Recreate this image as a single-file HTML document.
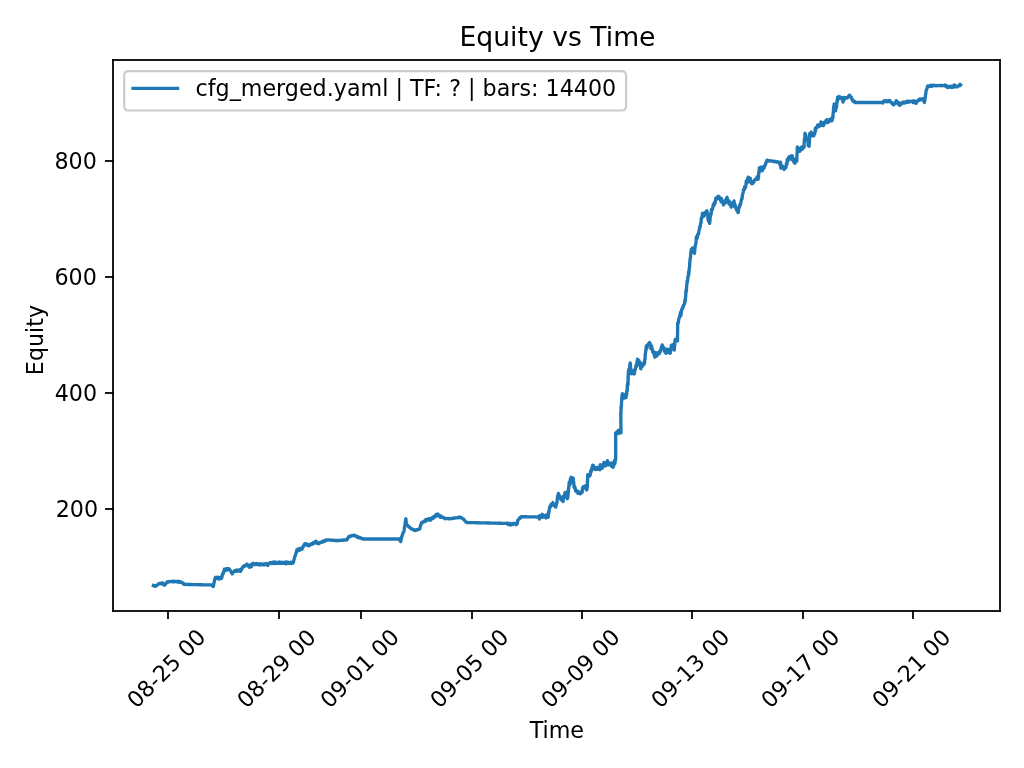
<!DOCTYPE html>
<html><head><meta charset="utf-8"><title>Equity vs Time</title>
<style>html,body{margin:0;padding:0;background:#fff;overflow:hidden}svg{display:block;will-change:transform}
text{font-family:"DejaVu Sans","Liberation Sans",sans-serif;fill:#000}</style>
</head><body>
<svg width="1024" height="768" viewBox="0 0 1024 768">
<rect width="1024" height="768" fill="#fff"/>
<defs><clipPath id="ax"><rect x="113.1" y="60.1" width="886.9" height="550.7"/></clipPath></defs>
<path d="M153.40 585.60 153.77 585.79 154.13 586.01 154.50 585.95 154.87 585.54 155.23 586.29 155.60 586.23 155.95 585.69 156.31 585.78 156.66 585.47 157.02 585.21 157.37 584.88 157.73 584.79 158.08 584.16 158.44 584.09 158.79 583.75 159.15 583.83 159.50 583.41 159.86 583.35 160.21 583.24 160.57 583.44 160.92 583.56 161.28 583.51 161.63 584.02 161.99 583.97 162.34 582.90 162.70 583.18 163.08 584.01 163.45 584.25 163.82 584.75 164.20 585.07 164.60 585.22 165.00 583.83 165.40 583.64 165.80 583.95 166.20 583.11 166.60 582.70 166.96 582.26 167.32 581.84 167.67 582.30 168.03 582.19 168.39 581.71 168.75 581.79 169.10 581.89 169.46 581.54 169.82 581.71 170.18 581.68 170.53 581.58 170.89 581.33 171.25 581.58 171.61 581.69 171.97 581.53 172.33 581.21 172.69 581.70 173.05 581.35 173.41 581.78 173.77 581.21 174.13 581.83 174.49 581.57 174.85 581.22 175.21 581.52 175.57 581.65 175.93 581.73 176.28 581.37 176.64 581.36 177.00 581.77 177.36 581.59 177.72 581.82 178.08 581.99 178.44 581.29 178.80 581.88 179.16 582.19 179.52 581.75 179.88 581.62 180.24 582.11 180.60 581.98 180.95 582.40 181.31 582.25 181.66 582.14 182.02 582.78 182.37 582.90 182.73 583.50 183.08 583.55 183.44 583.23 183.79 583.59 184.15 584.44 184.50 584.60 184.85 584.22 185.21 584.41 185.56 584.42 185.91 584.43 186.26 584.44 186.62 584.45 186.97 584.45 187.32 584.46 187.67 584.47 188.03 584.48 188.38 584.48 188.73 584.49 189.08 584.50 189.44 584.50 189.79 584.51 190.14 584.52 190.49 584.53 190.85 584.54 191.20 584.54 191.55 584.55 191.90 584.56 192.26 584.57 192.61 584.57 192.96 584.58 193.31 584.59 193.66 584.60 194.02 584.60 194.37 584.61 194.72 584.62 195.08 584.62 195.43 584.63 195.78 584.64 196.13 584.65 196.49 584.65 196.84 584.66 197.19 584.67 197.54 584.68 197.90 584.69 198.25 584.69 198.60 584.70 198.95 584.71 199.31 584.72 199.66 584.72 200.01 584.73 200.36 584.74 200.72 584.75 201.07 584.75 201.42 584.76 201.77 584.77 202.12 584.78 202.48 584.78 202.83 584.79 203.18 584.80 203.53 584.80 203.89 584.81 204.24 584.82 204.59 584.83 204.95 584.84 205.30 584.84 205.65 584.85 206.00 584.86 206.36 584.87 206.71 584.87 207.06 584.88 207.41 584.89 207.76 584.89 208.12 584.90 208.47 584.91 208.82 584.92 209.18 584.93 209.53 584.93 209.88 584.94 210.23 584.95 210.59 584.96 210.94 584.96 211.29 584.97 211.64 584.98 212.00 584.99 212.35 585.33 212.70 585.32 213.05 586.50 213.40 586.20 213.67 584.52 213.93 583.44 214.20 582.17 214.47 580.95 214.73 579.59 215.00 578.38 215.39 577.40 215.78 578.50 216.16 577.72 216.55 577.34 216.94 578.11 217.33 578.33 217.71 577.84 218.10 577.58 218.45 577.19 218.80 579.16 219.15 578.34 219.50 577.51 219.85 577.82 220.20 578.38 220.55 577.73 220.90 578.69 221.25 578.53 221.60 578.33 221.95 577.20 222.30 574.43 222.65 574.75 223.00 572.95 223.35 573.25 223.70 571.79 224.05 570.97 224.40 569.19 224.75 570.52 225.11 570.55 225.46 569.00 225.82 569.63 226.17 569.07 226.52 569.32 226.88 568.66 227.23 570.10 227.58 568.68 227.94 568.94 228.29 569.26 228.65 568.65 229.00 568.79 229.36 569.15 229.71 569.88 230.07 569.90 230.42 570.78 230.78 571.41 231.13 571.87 231.49 572.58 231.84 572.94 232.20 573.96 232.58 573.05 232.97 572.75 233.35 572.11 233.73 571.78 234.12 571.03 234.50 571.50 234.85 570.66 235.20 570.81 235.55 571.30 235.90 571.28 236.25 570.85 236.60 570.03 236.95 571.16 237.30 571.04 237.65 570.20 238.00 571.20 238.35 570.46 238.70 570.21 239.05 570.75 239.40 570.58 239.75 570.72 240.10 569.81 240.45 571.41 240.80 570.21 241.18 569.11 241.57 569.50 241.95 568.38 242.33 568.06 242.72 567.09 243.10 566.57 243.45 566.57 243.81 565.95 244.16 566.49 244.52 565.79 244.87 565.46 245.23 565.76 245.58 565.80 245.94 565.33 246.29 564.88 246.65 565.44 247.00 564.16 247.40 564.82 247.80 565.65 248.20 565.30 248.60 566.28 249.00 566.56 249.40 567.33 249.79 566.12 250.18 565.92 250.56 566.05 250.95 564.37 251.34 566.70 251.73 564.54 252.11 564.19 252.50 564.61 252.85 564.18 253.21 563.35 253.56 564.50 253.91 564.61 254.26 563.98 254.62 564.06 254.97 564.43 255.32 563.76 255.67 564.41 256.03 564.30 256.38 563.88 256.73 563.53 257.08 564.09 257.44 563.78 257.79 564.68 258.14 564.27 258.49 564.58 258.85 564.26 259.20 564.33 259.55 563.82 259.90 564.52 260.25 565.06 260.61 564.05 260.96 563.92 261.31 564.12 261.67 563.97 262.02 563.86 262.37 564.27 262.72 564.06 263.08 564.89 263.43 564.20 263.78 564.36 264.13 564.66 264.49 564.06 264.84 564.89 265.19 563.90 265.54 563.81 265.89 564.02 266.25 564.14 266.60 563.53 266.98 564.38 267.35 563.80 267.73 565.47 268.10 564.96 268.50 564.19 268.90 563.56 269.30 563.32 269.70 562.89 270.05 562.49 270.41 562.55 270.76 562.90 271.12 562.73 271.47 563.43 271.83 563.52 272.18 562.98 272.54 563.19 272.89 562.32 273.25 563.26 273.60 562.94 273.95 563.18 274.31 563.71 274.66 561.84 275.02 563.06 275.37 562.40 275.73 563.21 276.08 562.29 276.44 562.68 276.79 563.01 277.15 563.20 277.50 562.94 277.85 562.51 278.21 562.63 278.56 563.31 278.92 562.88 279.27 562.07 279.63 563.28 279.98 563.07 280.34 563.28 280.69 562.70 281.05 563.25 281.40 562.34 281.75 563.12 282.11 562.61 282.46 563.16 282.82 563.31 283.17 562.47 283.53 562.80 283.88 562.84 284.24 563.38 284.59 563.15 284.95 562.22 285.30 563.02 285.65 563.15 286.01 563.81 286.36 561.98 286.72 562.52 287.07 563.42 287.43 562.12 287.78 562.19 288.14 563.01 288.49 563.25 288.85 562.43 289.20 563.01 289.55 562.80 289.91 563.47 290.26 562.74 290.62 563.21 290.97 562.29 291.33 562.63 291.68 562.67 292.04 563.26 292.39 562.99 292.75 562.34 293.10 563.03 293.45 561.92 293.81 560.34 294.16 559.11 294.52 557.99 294.87 556.11 295.23 555.86 295.58 554.73 295.94 553.05 296.29 552.67 296.65 550.50 297.00 549.74 297.36 549.71 297.72 550.83 298.08 549.05 298.45 550.02 298.81 550.14 299.17 549.81 299.53 550.14 299.89 549.03 300.25 548.35 300.62 549.75 300.98 548.75 301.34 549.10 301.70 548.63 302.09 549.02 302.48 548.25 302.86 546.81 303.25 546.91 303.64 545.85 304.03 545.05 304.41 544.46 304.80 543.65 305.16 544.16 305.52 544.14 305.88 543.94 306.25 544.71 306.61 544.05 306.97 544.60 307.33 544.79 307.69 545.41 308.05 544.58 308.42 545.78 308.78 545.15 309.14 545.09 309.50 544.98 309.85 545.36 310.20 544.89 310.55 544.12 310.90 543.89 311.25 543.95 311.60 543.68 311.95 544.31 312.30 544.23 312.65 543.77 313.00 543.31 313.35 542.71 313.70 542.73 314.05 542.91 314.40 543.29 314.75 542.49 315.10 541.70 315.45 541.63 315.80 541.17 316.18 541.29 316.57 541.84 316.95 542.29 317.33 543.35 317.72 542.76 318.10 543.65 318.46 543.76 318.82 542.87 319.18 543.52 319.55 543.00 319.91 542.38 320.27 542.62 320.63 542.42 320.99 542.21 321.35 542.14 321.72 542.22 322.08 542.28 322.44 541.56 322.80 541.90 323.15 540.98 323.51 541.64 323.86 541.63 324.22 541.22 324.57 541.08 324.93 541.04 325.28 540.24 325.64 540.26 325.99 540.43 326.35 540.05 326.70 539.82 327.05 539.98 327.40 539.85 327.76 539.94 328.11 539.99 328.46 539.93 328.81 539.92 329.16 539.92 329.51 540.03 329.87 540.11 330.22 540.09 330.57 540.11 330.92 540.11 331.27 540.19 331.62 540.06 331.98 540.23 332.33 540.24 332.68 540.19 333.03 540.43 333.38 540.24 333.73 540.29 334.09 540.31 334.44 540.47 334.79 540.38 335.14 540.50 335.49 540.52 335.84 540.53 336.20 540.47 336.55 540.54 336.90 540.70 337.26 540.49 337.62 540.49 337.98 540.50 338.34 540.53 338.70 540.47 339.06 540.47 339.43 540.34 339.79 540.43 340.15 540.38 340.51 540.22 340.87 540.38 341.23 540.39 341.59 540.18 341.95 540.20 342.31 540.26 342.67 540.05 343.03 539.99 343.39 540.01 343.75 540.02 344.11 539.99 344.47 540.04 344.84 539.99 345.20 539.87 345.56 539.95 345.92 540.00 346.28 539.93 346.64 539.89 347.00 539.80 347.40 539.26 347.80 538.02 348.20 537.66 348.60 536.68 348.96 536.87 349.32 536.61 349.68 536.14 350.04 536.33 350.40 536.49 350.76 535.83 351.12 535.87 351.48 535.72 351.84 535.44 352.20 535.93 352.56 535.91 352.92 535.69 353.28 535.46 353.64 535.29 354.00 535.26 354.37 535.20 354.73 535.77 355.10 535.98 355.46 536.13 355.83 535.96 356.19 536.28 356.56 536.40 356.92 537.04 357.29 536.84 357.65 536.52 358.02 537.24 358.38 537.77 358.75 537.66 359.11 537.83 359.47 537.74 359.82 537.37 360.18 537.53 360.54 537.78 360.90 538.16 361.25 538.38 361.61 538.59 361.97 538.46 362.33 538.88 362.68 538.70 363.04 538.88 363.40 539.00 363.75 539.00 364.11 539.00 364.46 539.00 364.81 539.00 365.16 539.00 365.52 539.00 365.87 539.00 366.22 539.00 366.58 539.00 366.93 539.00 367.28 539.00 367.64 539.00 367.99 539.00 368.34 539.00 368.69 539.00 369.05 539.00 369.40 539.00 369.75 539.00 370.11 539.00 370.46 539.00 370.81 539.00 371.16 539.00 371.52 539.00 371.87 539.00 372.22 539.00 372.58 539.00 372.93 539.00 373.28 539.00 373.64 539.00 373.99 539.00 374.34 539.00 374.69 539.00 375.05 539.00 375.40 539.00 375.75 539.00 376.11 539.00 376.46 539.00 376.81 539.00 377.16 539.00 377.52 539.00 377.87 539.00 378.22 539.00 378.58 539.00 378.93 539.00 379.28 539.00 379.64 539.00 379.99 539.00 380.34 539.00 380.69 539.00 381.05 539.00 381.40 539.00 381.75 539.00 382.11 539.00 382.46 539.00 382.81 539.00 383.16 539.00 383.52 539.00 383.87 539.00 384.22 539.00 384.58 539.00 384.93 539.00 385.28 539.00 385.64 539.00 385.99 539.00 386.34 539.00 386.69 539.00 387.05 539.00 387.40 539.00 387.75 539.00 388.11 539.00 388.46 539.00 388.81 539.00 389.16 539.00 389.52 539.00 389.87 539.00 390.22 539.00 390.58 539.00 390.93 539.00 391.28 539.00 391.64 539.00 391.99 539.00 392.34 539.00 392.69 539.00 393.05 539.00 393.40 539.00 393.75 539.00 394.11 539.00 394.46 539.00 394.81 539.00 395.16 539.00 395.52 539.00 395.87 539.00 396.22 539.00 396.58 539.00 396.93 539.00 397.28 539.00 397.64 539.00 397.99 539.00 398.34 539.00 398.69 539.00 399.05 538.80 399.40 538.89 399.80 540.17 400.20 540.27 400.60 541.64 400.88 540.85 401.15 539.41 401.43 538.23 401.70 536.63 402.08 535.93 402.47 534.71 402.85 533.65 403.23 532.66 403.62 532.03 404.00 531.12 404.17 529.93 404.35 528.06 404.52 527.27 404.69 526.45 404.86 525.48 405.04 524.10 405.21 522.86 405.38 521.35 405.55 521.22 405.73 519.30 405.90 518.80 406.03 520.22 406.15 521.37 406.27 522.61 406.40 524.23 406.75 524.28 407.11 524.97 407.46 525.26 407.82 525.75 408.17 526.20 408.53 526.74 408.88 526.59 409.24 527.29 409.59 527.20 409.95 527.53 410.30 527.95 410.66 528.05 411.02 528.70 411.38 528.88 411.75 529.14 412.11 529.02 412.47 529.27 412.83 529.25 413.19 529.30 413.55 529.87 413.92 530.01 414.28 529.87 414.64 530.46 415.00 530.08 415.36 530.33 415.72 530.10 416.08 530.00 416.45 529.75 416.81 530.11 417.17 529.90 417.53 529.92 417.89 529.55 418.25 529.08 418.62 529.18 418.98 528.86 419.34 529.13 419.70 529.19 420.09 527.68 420.48 525.86 420.86 524.59 421.25 523.49 421.61 522.46 421.97 522.99 422.32 522.77 422.68 522.18 423.04 522.00 423.40 522.04 423.75 521.33 424.11 521.09 424.47 521.62 424.83 521.11 425.18 521.57 425.54 520.05 425.90 519.44 426.26 520.68 426.62 520.63 426.98 519.75 427.35 519.34 427.71 519.96 428.07 519.08 428.43 519.69 428.79 518.75 429.15 519.62 429.52 518.65 429.88 519.49 430.24 520.27 430.60 519.36 430.97 519.58 431.34 518.62 431.71 518.22 432.08 517.66 432.45 518.60 432.82 517.79 433.19 518.32 433.56 516.70 433.94 516.88 434.31 516.75 434.68 517.12 435.05 517.04 435.42 515.57 435.79 515.06 436.16 514.50 436.53 515.70 436.90 514.73 437.25 514.63 437.61 515.08 437.96 514.04 438.32 514.60 438.67 516.04 439.03 515.95 439.38 515.99 439.74 515.60 440.09 516.53 440.45 517.26 440.80 515.99 441.15 516.75 441.51 516.69 441.86 517.24 442.22 517.24 442.57 517.32 442.93 517.13 443.28 517.71 443.64 517.59 443.99 517.98 444.35 518.18 444.70 518.69 445.05 518.35 445.41 518.40 445.76 518.59 446.11 518.46 446.47 518.48 446.82 518.64 447.17 518.59 447.53 518.59 447.88 518.63 448.23 518.48 448.59 518.71 448.94 518.83 449.29 518.77 449.65 518.53 450.00 518.78 450.37 518.58 450.74 518.61 451.10 518.59 451.47 518.38 451.84 518.63 452.21 518.40 452.57 518.45 452.94 518.37 453.31 518.40 453.68 518.33 454.04 517.95 454.41 518.08 454.78 517.76 455.15 517.91 455.51 517.99 455.88 517.96 456.25 517.95 456.61 517.68 456.97 517.69 457.33 517.59 457.69 517.66 458.05 517.62 458.40 517.32 458.76 517.74 459.12 517.21 459.48 517.10 459.84 517.14 460.20 517.09 460.59 517.31 460.98 517.42 461.36 517.92 461.75 518.00 462.14 518.43 462.52 518.66 462.91 518.59 463.30 518.88 463.69 519.31 464.08 519.90 464.46 520.32 464.85 520.78 465.24 521.09 465.62 521.67 466.01 522.06 466.40 522.50 466.75 522.51 467.11 522.52 467.46 522.52 467.81 522.53 468.16 522.54 468.52 522.55 468.87 522.56 469.22 522.56 469.57 522.57 469.93 522.58 470.28 522.59 470.63 522.60 470.98 522.60 471.34 522.61 471.69 522.62 472.04 522.63 472.40 522.64 472.75 522.64 473.10 522.65 473.45 522.66 473.81 522.67 474.16 522.68 474.51 522.68 474.86 522.69 475.22 522.70 475.57 522.71 475.92 522.72 476.27 522.72 476.63 522.73 476.98 522.74 477.33 522.75 477.68 522.75 478.04 522.76 478.39 522.77 478.74 522.78 479.10 522.79 479.45 522.79 479.80 522.80 480.15 522.81 480.51 522.82 480.86 522.83 481.21 522.83 481.56 522.84 481.92 522.85 482.27 522.86 482.62 522.87 482.97 522.87 483.33 522.88 483.68 522.89 484.03 522.90 484.39 522.91 484.74 522.91 485.09 522.92 485.44 522.93 485.80 522.94 486.15 522.95 486.50 522.95 486.85 522.96 487.21 522.97 487.56 522.98 487.91 522.99 488.26 522.99 488.62 523.00 488.97 523.01 489.32 523.02 489.68 523.03 490.03 523.03 490.38 523.04 490.73 523.05 491.09 523.06 491.44 523.07 491.79 523.07 492.14 523.08 492.50 523.09 492.85 523.10 493.20 523.11 493.55 523.11 493.91 523.12 494.26 523.13 494.61 523.14 494.97 523.15 495.32 523.15 495.67 523.16 496.02 523.17 496.38 523.18 496.73 523.18 497.08 523.19 497.43 523.20 497.79 523.21 498.14 523.22 498.49 523.22 498.84 523.23 499.20 523.24 499.55 523.25 499.90 523.26 500.25 523.26 500.61 523.27 500.96 523.28 501.31 523.29 501.67 523.30 502.02 523.30 502.37 523.31 502.72 523.32 503.08 523.33 503.43 523.34 503.78 523.34 504.13 523.35 504.49 523.36 504.84 523.37 505.19 523.38 505.54 523.38 505.90 523.39 506.25 523.32 506.64 523.45 507.03 523.64 507.43 523.08 507.82 524.11 508.21 524.17 508.60 524.60 508.96 524.54 509.32 524.74 509.68 524.40 510.03 524.66 510.39 523.42 510.75 523.91 511.11 524.90 511.47 523.81 511.82 524.11 512.18 524.44 512.54 523.83 512.90 524.38 513.26 523.57 513.62 523.37 513.98 523.55 514.33 523.40 514.69 523.96 515.05 523.82 515.41 524.02 515.77 523.50 516.12 524.75 516.48 523.77 516.84 523.76 517.20 523.91 517.47 522.34 517.73 520.88 518.00 519.83 518.39 519.74 518.77 519.26 519.16 518.97 519.55 518.04 519.94 517.58 520.33 518.19 520.71 517.00 521.10 516.70 521.45 516.71 521.80 516.71 522.15 516.72 522.50 516.72 522.85 516.73 523.21 516.74 523.56 516.74 523.91 516.75 524.26 516.75 524.61 516.76 524.96 516.76 525.31 516.77 525.66 516.78 526.01 516.78 526.36 516.79 526.72 516.79 527.07 516.80 527.42 516.81 527.77 516.81 528.12 516.82 528.47 516.82 528.82 516.83 529.17 516.84 529.52 516.84 529.87 516.85 530.23 516.85 530.58 516.86 530.93 516.86 531.28 516.87 531.63 516.88 531.98 516.88 532.33 516.89 532.68 516.89 533.03 516.90 533.38 516.91 533.74 516.91 534.09 516.92 534.44 516.92 534.79 516.93 535.14 516.94 535.49 516.94 535.84 516.95 536.19 516.95 536.54 516.96 536.89 516.96 537.25 516.97 537.60 516.98 537.95 516.98 538.30 516.99 538.65 516.99 539.00 516.27 539.37 519.07 539.74 515.71 540.11 516.31 540.49 517.67 540.86 516.28 541.23 515.49 541.60 516.24 541.96 516.91 542.33 514.29 542.69 516.03 543.06 516.17 543.42 515.80 543.79 517.14 544.15 515.55 544.52 515.77 544.88 516.23 545.25 517.04 545.61 515.88 545.98 517.94 546.34 515.00 546.71 517.61 547.07 515.02 547.44 515.83 547.80 516.44 548.10 517.19 548.40 514.52 548.70 511.69 549.00 512.46 549.30 509.37 549.60 507.40 549.90 507.61 550.20 505.91 550.59 506.60 550.97 504.45 551.36 505.23 551.74 505.19 552.13 504.42 552.51 503.71 552.90 502.56 553.29 505.00 553.67 504.59 554.06 505.54 554.44 505.04 554.83 505.99 555.21 505.24 555.60 507.10 555.88 506.67 556.16 504.61 556.44 504.28 556.72 502.38 557.00 502.39 557.28 499.27 557.56 496.28 557.84 497.52 558.12 495.55 558.40 493.33 558.76 495.73 559.12 495.72 559.48 496.38 559.83 495.90 560.19 496.99 560.55 497.51 560.91 499.78 561.27 497.28 561.62 498.54 561.98 499.44 562.34 497.38 562.70 497.98 563.09 501.67 563.48 496.13 563.86 498.11 564.25 495.58 564.64 494.86 565.02 492.57 565.41 493.04 565.80 494.24 566.18 492.41 566.56 495.57 566.94 496.02 567.32 498.84 567.70 496.63 567.83 497.47 567.97 495.78 568.10 493.13 568.23 490.24 568.37 492.80 568.50 488.11 568.63 487.94 568.77 488.33 568.90 487.36 569.03 483.77 569.17 483.50 569.30 481.99 569.65 483.40 570.01 484.67 570.36 479.15 570.72 482.13 571.07 477.28 571.43 480.41 571.78 478.74 572.14 482.14 572.49 479.64 572.85 478.23 573.20 478.20 573.37 479.40 573.54 481.60 573.71 482.47 573.89 484.73 574.06 487.08 574.23 487.36 574.40 486.33 574.79 486.52 575.17 488.24 575.56 491.08 575.94 490.08 576.33 490.36 576.71 491.99 577.10 490.80 577.45 491.21 577.81 493.26 578.16 492.35 578.52 492.25 578.87 493.24 579.23 492.23 579.58 492.19 579.94 492.53 580.29 493.88 580.65 493.30 581.00 491.87 581.39 491.88 581.79 491.96 582.18 492.37 582.57 487.70 582.96 488.42 583.36 486.65 583.75 486.89 584.11 486.59 584.46 487.97 584.81 486.97 585.17 485.85 585.52 486.00 585.88 487.29 586.24 487.42 586.59 489.98 586.95 489.26 587.30 485.99 587.34 486.56 587.39 483.29 587.43 481.65 587.48 483.27 587.52 481.78 587.57 478.62 587.61 480.58 587.66 476.18 587.70 474.70 588.08 476.82 588.47 476.23 588.85 475.71 589.23 475.75 589.62 476.04 590.00 475.53 590.31 474.28 590.62 471.00 590.93 470.46 591.24 471.59 591.55 468.80 591.86 469.09 592.17 468.71 592.48 465.59 592.79 465.15 593.10 466.09 593.50 465.61 593.90 468.17 594.30 468.98 594.70 469.22 595.10 469.37 595.46 468.29 595.83 467.77 596.19 469.48 596.56 469.26 596.92 468.29 597.29 469.32 597.65 467.37 598.01 469.23 598.38 467.75 598.74 467.46 599.11 467.30 599.47 466.98 599.84 469.89 600.20 464.77 600.59 466.81 600.98 467.99 601.36 467.26 601.75 465.94 602.14 468.29 602.53 464.82 602.91 464.43 603.30 466.58 603.65 463.87 604.01 462.48 604.36 466.11 604.72 465.69 605.07 465.37 605.43 463.62 605.78 464.15 606.14 462.49 606.49 465.44 606.85 464.03 607.20 463.69 607.56 460.58 607.92 464.01 608.28 464.96 608.65 464.75 609.01 464.36 609.37 463.54 609.73 463.25 610.09 464.51 610.45 464.37 610.82 464.31 611.18 463.78 611.54 466.29 611.90 463.00 612.27 464.91 612.63 464.77 613.00 467.24 613.39 466.73 613.77 465.52 614.16 463.95 614.54 460.37 614.93 463.57 615.31 460.71 615.70 458.97 615.70 457.90 615.70 456.24 615.70 455.93 615.70 454.57 615.70 452.54 615.70 448.67 615.70 450.48 615.70 449.87 615.70 448.75 615.70 446.74 615.70 446.29 615.70 445.79 615.70 442.81 615.70 443.95 615.70 438.65 615.70 438.30 615.70 437.54 615.70 434.51 615.70 435.06 615.70 436.57 615.70 435.38 615.70 432.82 616.08 434.71 616.46 432.88 616.83 431.94 617.21 432.77 617.59 432.26 617.97 433.25 618.34 430.51 618.72 433.45 619.10 431.65 619.48 433.13 619.86 430.15 620.24 431.40 620.62 431.89 621.00 432.78 620.99 429.01 620.97 431.25 620.96 428.60 620.95 426.16 620.93 427.03 620.92 424.46 620.91 424.50 620.89 424.67 620.88 421.58 620.87 418.80 620.85 417.70 620.84 417.68 620.83 416.10 620.81 413.53 620.80 412.50 620.89 412.89 620.97 413.69 621.06 406.50 621.15 409.32 621.23 406.98 621.32 406.96 621.41 405.85 621.49 403.66 621.58 401.16 621.67 399.49 621.75 397.70 621.84 400.21 621.93 397.28 622.01 395.67 622.10 394.77 622.45 393.73 622.81 395.94 623.16 397.39 623.52 397.41 623.87 394.40 624.23 398.15 624.58 395.84 624.94 394.70 625.29 395.75 625.65 396.30 626.00 397.69 626.15 395.26 626.31 393.49 626.46 393.78 626.62 395.21 626.77 390.86 626.92 391.06 627.08 389.40 627.23 391.29 627.38 384.62 627.54 387.01 627.69 382.96 627.85 382.59 628.00 381.98 628.05 384.62 628.10 378.58 628.15 375.93 628.20 378.46 628.25 374.59 628.30 374.01 628.35 372.97 628.40 371.82 628.70 370.20 629.00 369.42 629.30 368.26 629.60 367.52 629.90 364.69 630.20 363.00 630.38 363.92 630.55 367.21 630.73 367.74 630.90 369.76 631.08 371.05 631.25 373.72 631.61 372.16 631.97 373.03 632.33 370.89 632.69 371.25 633.06 372.38 633.42 371.51 633.78 374.01 634.14 371.79 634.50 373.68 634.78 369.46 635.05 369.89 635.33 369.62 635.60 368.52 635.88 365.49 636.15 366.58 636.43 366.43 636.70 364.84 636.98 362.08 637.25 360.98 637.53 359.07 637.80 360.06 638.17 362.06 638.54 360.73 638.91 360.35 639.29 363.65 639.66 365.29 640.03 362.20 640.40 366.67 640.75 368.86 641.11 367.01 641.46 366.45 641.82 366.04 642.17 366.59 642.53 363.95 642.88 363.83 643.24 365.10 643.59 363.55 643.95 364.45 644.30 361.60 644.45 363.60 644.59 362.50 644.74 360.33 644.88 359.27 645.03 359.81 645.18 355.35 645.32 354.35 645.47 352.93 645.62 352.52 645.76 350.61 645.91 350.66 646.05 348.63 646.20 346.46 646.58 345.61 646.95 348.20 647.33 345.94 647.70 345.03 648.08 344.61 648.45 343.75 648.83 344.03 649.20 343.07 649.55 342.60 649.90 343.23 650.25 343.83 650.60 344.54 650.95 348.63 651.30 346.76 651.65 346.35 652.00 348.67 652.35 349.64 652.70 351.90 653.07 350.81 653.44 352.88 653.81 353.08 654.19 354.51 654.56 355.96 654.93 357.15 655.30 355.72 655.65 352.59 656.01 353.38 656.36 354.04 656.72 356.11 657.07 354.32 657.43 354.83 657.78 353.06 658.14 353.86 658.49 353.90 658.85 352.37 659.20 353.73 659.57 353.18 659.95 350.81 660.33 351.32 660.70 351.18 661.08 348.38 661.45 347.40 661.83 346.13 662.20 344.86 662.56 346.60 662.93 346.73 663.29 347.66 663.65 347.92 664.01 347.82 664.38 349.35 664.74 351.68 665.10 350.68 665.47 350.95 665.84 353.33 666.21 352.34 666.59 349.78 666.96 350.97 667.33 349.09 667.70 351.45 668.07 349.27 668.44 350.54 668.81 352.58 669.19 350.39 669.56 353.42 669.93 351.35 670.30 353.09 670.49 351.23 670.67 350.27 670.86 349.35 671.04 347.85 671.23 345.51 671.41 346.55 671.60 345.16 671.97 346.50 672.34 347.28 672.71 344.66 673.09 348.47 673.46 349.14 673.83 347.60 674.20 350.14 674.32 349.36 674.43 345.65 674.55 343.35 674.67 343.27 674.78 345.75 674.90 341.38 675.27 339.54 675.64 340.60 676.01 339.61 676.39 340.22 676.76 340.71 677.13 337.43 677.50 340.83 677.51 340.91 677.53 337.78 677.54 336.37 677.56 336.96 677.57 332.93 677.59 331.77 677.60 330.41 677.61 330.70 677.63 330.17 677.64 328.40 677.66 327.98 677.67 327.13 677.69 325.54 677.70 322.78 678.05 322.22 678.40 322.82 678.75 318.86 679.10 318.60 679.45 317.19 679.80 316.26 680.15 313.97 680.50 312.43 680.85 315.90 681.20 312.76 681.55 309.56 681.90 309.13 682.29 309.22 682.68 307.21 683.06 307.58 683.45 305.31 683.84 304.83 684.23 304.37 684.61 303.14 685.00 299.96 685.12 301.70 685.25 300.77 685.37 299.80 685.49 296.81 685.62 297.20 685.74 295.82 685.86 292.21 685.99 290.47 686.11 292.46 686.24 289.52 686.36 290.64 686.48 290.79 686.61 286.29 686.73 284.94 686.85 284.53 686.98 284.13 687.10 280.74 687.31 282.34 687.52 280.79 687.73 279.14 687.94 276.45 688.15 276.95 688.36 275.63 688.57 271.91 688.78 274.61 688.99 270.49 689.20 270.04 689.32 267.74 689.44 267.61 689.56 267.31 689.68 263.73 689.80 261.48 689.92 261.70 690.04 259.45 690.16 258.88 690.29 258.41 690.41 257.26 690.53 257.66 690.65 253.66 690.77 254.08 690.89 251.82 691.01 252.84 691.13 253.01 691.25 249.11 691.64 251.15 692.04 248.90 692.43 248.01 692.83 248.80 693.22 248.82 693.61 249.97 694.01 251.22 694.40 253.28 694.59 251.50 694.78 249.98 694.97 247.68 695.16 246.09 695.35 245.76 695.55 244.65 695.74 243.55 695.93 242.45 696.12 240.63 696.31 237.23 696.50 236.96 696.89 236.15 697.28 238.01 697.66 234.30 698.05 234.46 698.44 234.24 698.83 231.73 699.21 229.69 699.60 228.65 699.81 226.52 700.02 226.87 700.23 226.60 700.44 224.68 700.65 223.68 700.86 222.36 701.07 222.65 701.28 218.24 701.49 217.94 701.70 217.35 702.07 217.77 702.44 213.13 702.81 215.19 703.19 215.34 703.56 214.12 703.93 216.15 704.30 215.16 704.67 214.20 705.04 212.48 705.41 212.63 705.79 212.80 706.16 214.30 706.53 212.07 706.90 210.82 707.29 212.76 707.67 214.99 708.06 218.91 708.44 221.10 708.83 218.72 709.21 221.63 709.60 223.38 709.83 222.01 710.05 219.09 710.28 216.43 710.51 216.17 710.74 213.28 710.96 214.57 711.19 213.98 711.42 209.54 711.65 210.51 711.87 209.69 712.10 209.60 712.47 208.94 712.84 207.43 713.21 204.83 713.59 204.40 713.96 205.47 714.33 202.49 714.70 202.35 715.07 203.46 715.44 200.92 715.81 198.31 716.19 198.79 716.56 199.10 716.93 197.29 717.30 198.09 717.65 198.50 718.00 196.44 718.35 196.87 718.70 197.61 719.05 196.55 719.40 198.70 719.75 198.29 720.10 199.71 720.45 198.30 720.80 198.23 721.15 201.75 721.50 198.74 721.90 200.14 722.30 201.00 722.70 202.55 723.10 202.86 723.50 204.95 723.86 203.46 724.21 203.11 724.57 203.35 724.92 203.06 725.28 202.09 725.63 199.95 725.99 200.62 726.34 199.30 726.70 198.62 727.07 197.25 727.45 200.69 727.82 200.29 728.19 203.07 728.56 202.36 728.94 200.82 729.31 201.08 729.68 204.68 730.05 202.81 730.43 205.25 730.80 204.64 731.16 207.18 731.51 204.41 731.87 205.79 732.22 205.22 732.58 202.72 732.93 202.54 733.29 204.38 733.64 202.25 734.00 200.87 734.37 204.30 734.75 206.89 735.12 204.71 735.49 207.38 735.86 206.46 736.24 209.23 736.61 208.26 736.98 211.10 737.35 211.10 737.73 211.18 738.10 212.63 738.45 210.42 738.80 208.45 739.15 207.25 739.50 207.18 739.85 204.70 740.20 205.23 740.55 204.06 740.90 202.71 741.25 200.28 741.53 199.70 741.81 198.37 742.09 198.75 742.38 194.96 742.66 194.23 742.94 193.17 743.22 192.05 743.50 190.08 743.90 189.04 744.30 189.84 744.70 186.67 745.10 187.35 745.50 187.51 745.90 185.42 746.26 180.95 746.62 183.29 746.99 182.17 747.35 181.49 747.71 178.12 748.08 180.22 748.44 177.24 748.80 179.34 749.17 179.62 749.55 181.95 749.92 178.98 750.29 178.17 750.66 181.81 751.04 182.15 751.41 181.20 751.78 183.85 752.15 183.59 752.53 181.78 752.90 183.45 753.28 182.56 753.67 182.18 754.05 181.76 754.43 179.91 754.82 179.72 755.20 179.88 755.58 179.09 755.95 178.85 756.33 178.81 756.70 179.05 757.07 176.87 757.45 179.37 757.83 177.94 758.20 179.30 758.32 176.24 758.44 177.95 758.57 175.96 758.69 172.88 758.81 173.62 758.93 171.26 759.06 173.17 759.18 170.43 759.30 167.72 759.66 168.90 760.02 168.54 760.38 169.97 760.75 168.92 761.11 169.06 761.47 167.06 761.83 169.31 762.19 170.82 762.55 169.03 762.92 168.17 763.28 168.37 763.64 166.98 764.00 168.30 764.38 165.81 764.75 166.23 765.12 165.09 765.50 164.06 765.88 163.37 766.25 162.04 766.62 161.36 767.00 160.17 767.35 160.79 767.71 160.87 768.06 160.72 768.42 160.96 768.77 160.78 769.13 160.82 769.48 160.70 769.84 160.66 770.19 160.90 770.55 160.83 770.90 160.90 771.25 161.16 771.61 161.06 771.96 160.85 772.32 161.15 772.67 161.10 773.03 161.23 773.38 161.14 773.74 161.61 774.09 161.78 774.45 161.29 774.80 161.66 775.15 161.70 775.51 161.45 775.86 161.72 776.22 162.00 776.57 161.95 776.93 162.15 777.28 161.69 777.64 161.82 777.99 162.06 778.35 162.12 778.70 162.12 779.06 162.37 779.42 163.00 779.79 163.43 780.15 165.36 780.51 162.17 780.88 168.06 781.24 166.17 781.60 165.75 781.97 168.17 782.35 165.88 782.72 168.09 783.09 167.19 783.46 168.44 783.84 168.73 784.21 169.39 784.58 167.29 784.95 167.59 785.33 167.98 785.70 166.35 785.96 167.59 786.21 165.86 786.47 162.92 786.73 164.81 786.99 163.83 787.24 159.44 787.50 160.53 787.85 161.03 788.21 160.22 788.56 157.72 788.92 156.90 789.27 158.13 789.62 157.35 789.98 157.62 790.33 157.19 790.68 157.63 791.04 156.01 791.39 156.17 791.75 159.61 792.10 155.58 792.46 157.80 792.82 158.44 793.18 159.54 793.54 159.36 793.90 162.27 794.26 161.27 794.63 162.01 794.99 163.19 795.35 160.65 795.71 161.04 796.08 158.60 796.44 159.67 796.80 161.09 796.86 157.99 796.92 156.12 796.98 155.97 797.04 154.33 797.10 153.09 797.16 151.76 797.22 153.42 797.28 148.82 797.34 148.20 797.40 146.84 797.76 149.59 798.12 148.35 798.48 150.83 798.84 150.05 799.20 150.40 799.56 148.40 799.92 151.34 800.28 150.27 800.65 149.83 801.01 148.94 801.37 148.31 801.73 147.02 802.09 149.41 802.45 148.33 802.82 147.30 803.18 146.71 803.54 147.33 803.90 146.82 804.00 147.67 804.10 145.40 804.20 142.53 804.30 140.69 804.40 140.51 804.50 138.47 804.60 138.43 804.70 137.59 804.80 136.64 804.90 135.15 805.00 133.20 805.34 135.32 805.69 134.71 806.03 136.85 806.37 139.09 806.71 139.63 807.06 138.94 807.40 140.25 807.83 140.60 808.25 145.60 808.68 142.48 809.10 145.07 809.16 146.26 809.22 144.17 809.28 143.28 809.34 139.92 809.40 140.23 809.46 141.81 809.52 136.94 809.58 136.30 809.64 134.24 809.70 133.42 810.06 133.98 810.42 135.29 810.78 132.64 811.15 132.10 811.51 133.93 811.87 134.24 812.23 135.78 812.59 135.04 812.95 133.53 813.32 135.05 813.68 135.80 814.04 134.90 814.40 134.24 814.70 134.13 815.00 131.57 815.30 128.43 815.60 130.94 815.96 127.35 816.32 128.05 816.68 127.62 817.05 127.15 817.41 126.77 817.77 124.93 818.13 126.85 818.49 125.80 818.85 125.37 819.22 126.16 819.58 125.75 819.94 125.59 820.30 125.75 820.65 124.23 821.00 121.99 821.35 124.24 821.70 124.15 822.05 124.37 822.40 123.71 822.75 123.52 823.10 125.69 823.49 125.41 823.89 122.42 824.28 123.92 824.68 122.58 825.07 121.83 825.46 122.63 825.86 121.26 826.25 120.17 826.64 121.47 827.02 119.59 827.41 121.84 827.80 122.60 828.20 120.80 828.60 122.04 829.00 121.50 829.40 119.80 829.80 119.67 830.20 120.03 830.58 120.62 830.97 118.57 831.35 120.02 831.73 120.99 832.12 119.85 832.50 119.09 832.61 117.92 832.73 117.28 832.84 115.26 832.96 117.74 833.07 113.47 833.19 113.43 833.30 112.03 833.41 111.40 833.53 109.00 833.64 106.73 833.76 109.08 833.87 105.85 833.99 104.91 834.10 103.84 834.35 106.28 834.60 106.86 834.85 108.51 835.10 109.25 835.35 109.62 835.60 110.91 835.78 108.50 835.96 105.85 836.13 106.68 836.31 104.47 836.49 107.65 836.67 105.21 836.84 103.53 837.02 100.25 837.20 102.17 837.59 97.17 837.98 97.28 838.36 97.30 838.75 96.60 839.14 97.42 839.52 97.01 839.91 98.58 840.30 97.00 840.65 97.95 841.00 97.67 841.35 97.67 841.70 97.70 842.05 97.40 842.40 98.85 842.75 100.11 843.10 102.17 843.48 98.60 843.86 98.35 844.24 99.63 844.62 97.47 845.00 98.22 845.38 97.95 845.77 97.83 846.15 97.62 846.53 98.07 846.92 97.84 847.30 97.88 847.70 97.35 848.10 97.13 848.50 96.60 848.90 95.42 849.30 95.46 849.70 95.14 850.09 96.06 850.48 96.66 850.86 97.14 851.25 97.34 851.64 98.16 852.02 99.45 852.41 99.56 852.80 100.87 853.19 101.21 853.58 100.62 853.96 101.41 854.35 101.46 854.74 102.48 855.12 102.30 855.51 102.07 855.90 102.65 856.25 102.50 856.60 102.50 856.95 102.50 857.30 102.50 857.65 102.50 858.00 102.50 858.35 102.50 858.70 102.50 859.05 102.50 859.40 102.50 859.75 102.50 860.10 102.50 860.45 102.50 860.80 102.50 861.15 102.50 861.50 102.50 861.85 102.50 862.20 102.50 862.55 102.50 862.90 102.50 863.25 102.50 863.60 102.50 863.95 102.50 864.30 102.50 864.65 102.50 865.00 102.50 865.35 102.50 865.70 102.50 866.05 102.50 866.40 102.50 866.75 102.50 867.10 102.50 867.45 102.50 867.80 102.50 868.15 102.50 868.50 102.50 868.85 102.50 869.20 102.50 869.55 102.50 869.90 102.50 870.25 102.50 870.60 102.50 870.95 102.50 871.30 102.50 871.65 102.50 872.00 102.50 872.35 102.50 872.70 102.50 873.05 102.50 873.40 102.50 873.75 102.50 874.10 102.50 874.45 102.50 874.80 102.50 875.15 102.50 875.50 102.50 875.85 102.50 876.20 102.50 876.55 102.50 876.90 102.50 877.25 102.50 877.60 102.50 877.95 102.50 878.30 102.50 878.65 102.50 879.00 102.50 879.35 102.50 879.70 102.50 880.05 102.50 880.40 102.50 880.75 102.50 881.10 102.50 881.45 102.50 881.80 102.50 882.15 102.43 882.50 102.99 882.90 102.98 883.30 102.24 883.70 100.96 884.10 100.78 884.46 100.89 884.83 101.22 885.19 101.02 885.56 101.06 885.92 100.75 886.29 101.76 886.65 101.71 887.02 101.76 887.38 101.20 887.75 101.49 888.11 100.76 888.48 100.70 888.84 100.95 889.21 101.56 889.57 101.17 889.94 100.63 890.30 101.30 890.70 102.00 891.10 102.39 891.50 102.46 891.90 103.38 892.30 103.65 892.70 104.22 893.05 104.13 893.41 104.37 893.76 104.73 894.12 104.37 894.47 103.65 894.83 102.87 895.18 102.71 895.54 102.51 895.89 103.06 896.25 100.72 896.60 102.14 896.99 101.26 897.38 102.67 897.76 103.73 898.15 102.86 898.54 102.45 898.93 104.73 899.31 105.18 899.70 104.97 900.08 105.01 900.47 103.53 900.85 104.23 901.23 104.15 901.62 103.21 902.00 102.65 902.37 103.16 902.73 103.04 903.10 102.00 903.47 103.10 903.83 102.74 904.20 102.39 904.57 102.97 904.93 102.73 905.30 102.60 905.67 101.89 906.03 102.58 906.40 101.50 906.77 102.00 907.13 101.12 907.50 101.08 907.87 102.20 908.24 101.87 908.60 101.91 908.97 102.14 909.34 101.97 909.71 101.26 910.07 101.73 910.44 101.61 910.81 101.32 911.18 101.49 911.54 101.32 911.91 101.12 912.28 101.25 912.65 101.51 913.01 102.45 913.38 100.85 913.75 101.53 914.14 100.72 914.53 102.63 914.93 101.84 915.32 102.36 915.71 103.23 916.10 103.33 916.48 101.48 916.87 102.07 917.25 101.13 917.63 101.07 918.02 100.30 918.40 100.10 918.76 99.86 919.12 99.62 919.48 100.34 919.85 98.87 920.21 99.47 920.57 99.18 920.93 99.62 921.29 99.47 921.65 99.62 922.02 99.44 922.38 99.45 922.74 98.81 923.10 99.68 923.53 100.90 923.97 101.44 924.40 102.45 924.59 101.20 924.77 101.21 924.96 99.15 925.14 97.94 925.33 96.44 925.51 95.12 925.70 93.73 925.88 93.36 926.06 90.94 926.25 90.41 926.64 89.32 927.02 88.26 927.41 86.81 927.80 85.96 928.16 86.69 928.52 86.03 928.88 86.53 929.25 86.39 929.61 86.30 929.97 86.30 930.33 85.53 930.69 85.74 931.05 86.09 931.42 85.33 931.78 86.32 932.14 85.46 932.50 85.58 932.86 85.23 933.21 85.64 933.57 85.51 933.93 85.57 934.29 85.46 934.64 85.74 935.00 85.40 935.36 85.65 935.71 85.63 936.07 85.65 936.43 85.48 936.79 85.72 937.14 85.72 937.50 85.62 937.86 85.64 938.21 85.58 938.57 85.68 938.93 85.50 939.29 85.67 939.64 85.65 940.00 85.43 940.36 85.29 940.71 85.59 941.07 85.58 941.43 85.75 941.79 85.61 942.14 85.54 942.50 85.44 942.86 85.59 943.21 85.53 943.57 85.47 943.93 85.59 944.29 85.73 944.64 85.61 945.00 85.10 945.38 85.97 945.77 85.51 946.15 85.49 946.53 86.70 946.92 86.42 947.30 87.43 947.67 87.05 948.03 86.51 948.40 87.01 948.77 87.52 949.13 86.81 949.50 86.39 949.87 86.58 950.23 86.51 950.60 86.33 950.97 86.28 951.33 87.10 951.70 87.43 952.07 86.73 952.43 87.28 952.80 87.34 953.20 87.18 953.60 85.76 954.00 85.16 954.40 85.00 954.78 85.25 955.17 85.74 955.55 86.62 955.93 86.19 956.32 86.90 956.70 86.73 957.10 86.86 957.50 86.34 957.90 86.04 958.30 86.03 958.70 85.65 959.10 85.78 959.48 85.79 959.85 84.48 960.23 85.48 960.60 84.80" clip-path="url(#ax)" fill="none" stroke="#1f77b4" stroke-width="3.3333" stroke-linejoin="round" stroke-linecap="square"/>
<g fill="#000" fill-opacity="0.894">
<rect x="112" y="59" width="2" height="553"/>
<rect x="999" y="59" width="2" height="553"/>
<rect x="112" y="59" width="889" height="2"/>
<rect x="112" y="610" width="889" height="2"/>
<rect x="167" y="610" width="2" height="9"/>
<rect x="278" y="610" width="2" height="9"/>
<rect x="360" y="610" width="2" height="9"/>
<rect x="471" y="610" width="2" height="9"/>
<rect x="581" y="610" width="2" height="9"/>
<rect x="691" y="610" width="2" height="9"/>
<rect x="802" y="610" width="2" height="9"/>
<rect x="912" y="610" width="2" height="9"/>
<rect x="105" y="160" width="9" height="2"/>
<rect x="105" y="276" width="9" height="2"/>
<rect x="105" y="392" width="9" height="2"/>
<rect x="105" y="508" width="9" height="2"/>
</g>
<text font-size="22.222" transform="translate(136.48 709.23) rotate(-45)">08-25 00</text>
<text font-size="22.222" transform="translate(246.58 709.27) rotate(-45)">08-29 00</text>
<text font-size="22.222" transform="translate(329.75 709.19) rotate(-45)">09-01 00</text>
<text font-size="22.222" transform="translate(439.43 709.17) rotate(-45)">09-05 00</text>
<text font-size="22.222" transform="translate(550.50 709.21) rotate(-45)">09-09 00</text>
<text font-size="22.222" transform="translate(660.47 709.25) rotate(-45)">09-13 00</text>
<text font-size="22.222" transform="translate(770.43 709.25) rotate(-45)">09-17 00</text>
<text font-size="22.222" transform="translate(881.47 709.27) rotate(-45)">09-21 00</text>
<text x="556.85" y="737.84" font-size="22.222" text-anchor="middle">Time</text>
<text x="98.14" y="517.02" font-size="22.222" text-anchor="end">200</text>
<text x="97.11" y="401.01" font-size="22.222" text-anchor="end">400</text>
<text x="96.92" y="285.37" font-size="22.222" text-anchor="end">600</text>
<text x="96.92" y="169.25" font-size="22.222" text-anchor="end">800</text>
<text x="43.37" y="340.01" font-size="22.222" text-anchor="middle" transform="rotate(-90 43.37 340.01)">Equity</text>
<text x="557.47" y="45.90" font-size="26.667" text-anchor="middle">Equity vs Time</text>
<g>
<path d="M128.66 110.49L621.64 110.49Q626.09 110.49 626.09 106.04L626.09 75.66Q626.09 71.21 621.64 71.21L128.66 71.21Q124.21 71.21 124.21 75.66L124.21 106.04Q124.21 110.49 128.66 110.49z" fill="#fff" fill-opacity="0.8" stroke="#ccc" stroke-width="2.2222" stroke-linejoin="miter"/>
<path d="M133.10 88.32L177.54 88.32" stroke="#1f77b4" stroke-width="3.3333" stroke-linecap="square"/>
<text x="195.54" y="96.34" font-size="22.222" text-anchor="start">cfg_merged.yaml | TF: ? | bars: 14400</text>
</g>
</svg>
</body></html>
